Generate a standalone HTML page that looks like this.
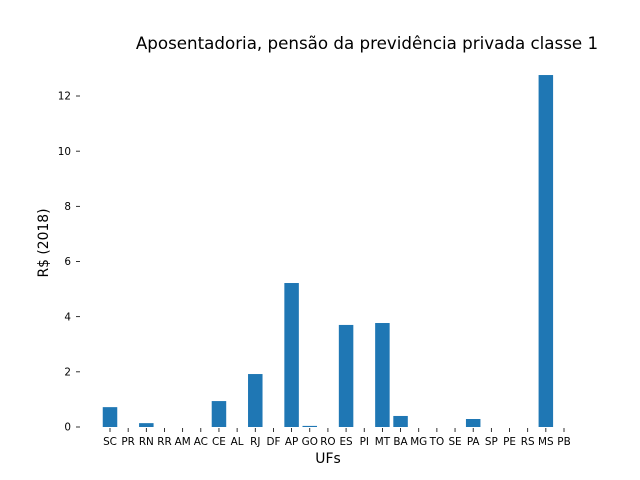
<!DOCTYPE html>
<html><head><meta charset="utf-8"><style>body{margin:0;background:#fff}svg{display:block;font-family:"DejaVu Sans","Liberation Sans",sans-serif}</style></head>
<body>
<svg id="c" width="640" height="480">
<text x="367" y="49" text-anchor="middle" font-size="16.7">Aposentadoria, pensão da previdência privada classe 1</text>
<text x="328" y="463" text-anchor="middle" font-size="13.9">UFs</text>
<text transform="translate(48,243) rotate(-90)" text-anchor="middle" font-size="13.9">R$ (2018)</text>
<g id="g"></g>
</svg>
<script>
const categories=["SC","PR","RN","RR","AM","AC","CE","AL","RJ","DF","AP","GO","RO","ES","PI","MT","BA","MG","TO","SE","PA","SP","PE","RS","MS","PB"];
const values=[0.72,0,0.14,0,0,0,0.94,0,1.92,0,5.22,0.04,0,3.70,0,3.77,0.40,0,0,0,0.29,0,0,0,12.76,0];
const yTicks=[0,2,4,6,8,10,12];
const NS="http://www.w3.org/2000/svg",g=document.getElementById('g');
const x=i=>110+i*(564-110)/25, y=v=>427-v*(427-96)/12, bw=14.5;
function mk(t,a){const e=document.createElementNS(NS,t);for(const k in a)e.setAttribute(k,a[k]);g.appendChild(e);return e;}
values.forEach((v,i)=>{const r=mk('rect',{x:x(i)-bw/2,y:y(v),width:bw,height:y(0)-y(v),fill:'#1f77b4'});

});
categories.forEach((c,i)=>{mk('line',{x1:x(i),x2:x(i),y1:428,y2:432,stroke:'#000','stroke-width':0.8});
const t=mk('text',{x:x(i),y:445,'text-anchor':'middle','font-size':10.4});t.textContent=c;

});
yTicks.forEach(v=>{mk('line',{x1:76,x2:80,y1:y(v),y2:y(v),stroke:'#000','stroke-width':0.8});
const t=mk('text',{x:71,y:y(v)+3.7,'text-anchor':'end','font-size':10.4});t.textContent=v;

});
</script>
</body></html>
